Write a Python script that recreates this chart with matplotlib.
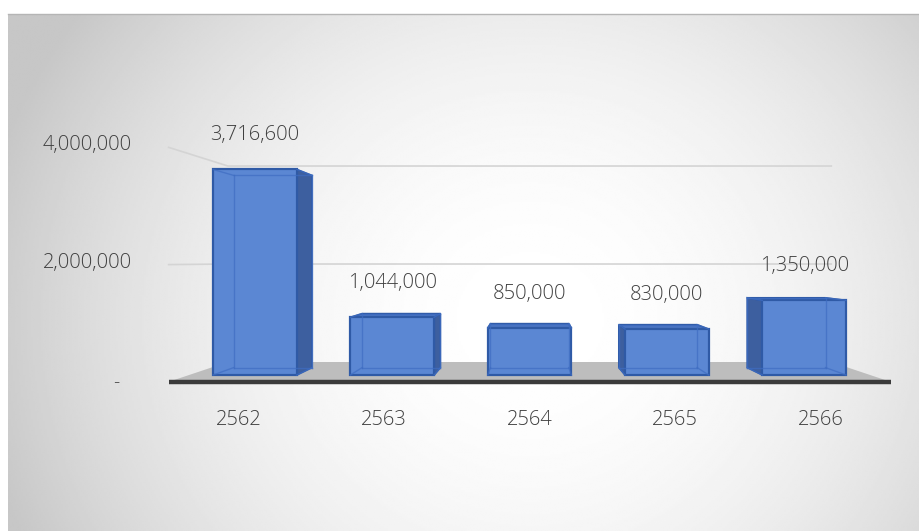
import numpy as np
import matplotlib.pyplot as plt
from matplotlib.patches import Polygon
from matplotlib.lines import Line2D

plt.rcParams['font.family'] = ['Open Sans', 'Noto Sans', 'DejaVu Sans']
plt.rcParams['font.weight'] = 300

# ---- data ----
years = ['2562', '2563', '2564', '2565', '2566']
values = [3716600, 1044000, 850000, 830000, 1350000]
value_labels = ['3,716,600', '1,044,000', '850,000', '830,000', '1,350,000']
yticks = [0, 2000000, 4000000]
ytick_labels = ['-', '2,000,000', '4,000,000']

# ---- geometry of the fake 3D view (pixel calibrated) ----
W, H = 920, 531
X0_PX, XSTEP = 255, 137.3          # px of category 0, px per category
Y0_PX, YSCALE = 375, 55.3e-6       # px (from top) of value 0, px per unit value
VPX = 2.0                          # vanishing point (category units)
VPV = (Y0_PX - 261) / YSCALE       # vanishing point (value units)
BW = 0.305                         # half bar width
S_BAR = 0.935                      # depth of bar back face
S_FRONT, S_BACK = 1.06, 0.886      # floor front / back wall depth
XL, XR = -0.48, 4.48               # floor extent

TXT = '#3f3f3f'


def proj(x, v, s):
    return VPX + (x - VPX) * s, VPV + (v - VPV) * s


fig = plt.figure(figsize=(W / 100, H / 100), dpi=100)
fig.patch.set_facecolor('white')

# radial gradient chart area
bg = fig.add_axes([8 / W, 0, 1 - 8 / W, (H - 14) / H])
gx, gy = np.meshgrid(np.linspace(8, W, 460), np.linspace(14, H, 260))
r = np.sqrt(((gx - 530) / 560) ** 2 + ((gy - 320) / 520) ** 2)
shade = 1 - 0.22 * np.clip(r, 0, 1) ** 2
bg.imshow(shade, cmap='gray', vmin=0, vmax=1, aspect='auto',
          extent=[0, 1, 0, 1], origin='upper', interpolation='bilinear')
bg.set_axis_off()
fig.add_artist(Line2D([8 / W, 1], [1 - 14 / H] * 2, color='#b5b5b5', lw=1))

ax = fig.add_axes([0, 0, 1, 1])
ax.set_xlim(-X0_PX / XSTEP, (W - X0_PX) / XSTEP)
ax.set_ylim(-(H - Y0_PX) / YSCALE, Y0_PX / YSCALE)
ax.set_axis_off()
ax.patch.set_alpha(0)

# floor
floor = [proj(XL, 0, S_FRONT), proj(XR, 0, S_FRONT),
         proj(XR, 0, S_BACK), proj(XL, 0, S_BACK)]
ax.add_patch(Polygon(floor, closed=True, fc='#bdbdbd', ec='none', zorder=1))
fx, fy = zip(proj(XL, 0, S_FRONT), proj(XR, 0, S_FRONT))
ax.plot(fx, fy, color='#3b3b3b', lw=3.2, solid_capstyle='butt', zorder=2)

# gridlines on side + back wall
for v in yticks[1:]:
    pts = [proj(XL, v, S_FRONT), proj(XL, v, S_BACK), proj(XR, v, S_BACK)]
    gxs, gys = zip(*pts)
    ax.plot(gxs, gys, color='#d4d4d4', lw=1.2, zorder=1)

# y tick labels
for v, lab in zip(yticks, ytick_labels):
    px, py = proj(XL, v, S_FRONT)
    if lab == '-':
        ax.annotate(lab, (px, py), xytext=(-52, 0), textcoords='offset pixels',
                    ha='center', va='center', fontsize=14, color=TXT)
    else:
        ax.annotate(lab, (px, py), xytext=(-37, 2), textcoords='offset pixels',
                    ha='right', va='center', fontsize=14.5, color=TXT)

# bars
FRONT_C, SIDE_C, TOP_C, EDGE_C = '#5b87d3', '#3d5f9f', '#4a74c2', '#2f5aa6'
for i, (v, lab) in enumerate(zip(values, value_labels)):
    x0, x1 = i - BW, i + BW
    fr = [proj(x0, 0, 1), proj(x1, 0, 1), proj(x1, v, 1), proj(x0, v, 1)]
    bk = [proj(x0, 0, S_BAR), proj(x1, 0, S_BAR), proj(x1, v, S_BAR), proj(x0, v, S_BAR)]
    if i < VPX:
        side = [fr[1], bk[1], bk[2], fr[2]]
    elif i > VPX:
        side = [fr[0], bk[0], bk[3], fr[3]]
    else:
        side = None
    if side is not None:
        ax.add_patch(Polygon(side, closed=True, fc=SIDE_C, ec=EDGE_C, lw=1.2, zorder=3))
    if v < VPV:
        top = [fr[3], fr[2], bk[2], bk[3]]
        ax.add_patch(Polygon(top, closed=True, fc=TOP_C, ec=EDGE_C, lw=1.2, zorder=3))
    ax.add_patch(Polygon(fr, closed=True, fc=FRONT_C, ec=EDGE_C, lw=1.6, zorder=4))
    # hidden edges seen through the translucent box
    for a, b in [(0, 1), (1, 2), (2, 3), (3, 0)]:
        ax.plot([bk[a][0], bk[b][0]], [bk[a][1], bk[b][1]], color='#3f6dc2',
                lw=1, alpha=0.7, zorder=5)
    for k in range(4):
        ax.plot([fr[k][0], bk[k][0]], [fr[k][1], bk[k][1]], color='#3f6dc2',
                lw=1, alpha=0.7, zorder=5)
    # value label
    ax.annotate(lab, proj(i, v, 1), xytext=(0, 34), textcoords='offset pixels',
                ha='center', va='center', fontsize=14.5, color=TXT)
    # category label
    ax.annotate(years[i], proj(i, 0, S_FRONT), xytext=(0, -38),
                textcoords='offset pixels', ha='center', va='center',
                fontsize=14.5, color=TXT)

fig.savefig('out.png', dpi=100)
